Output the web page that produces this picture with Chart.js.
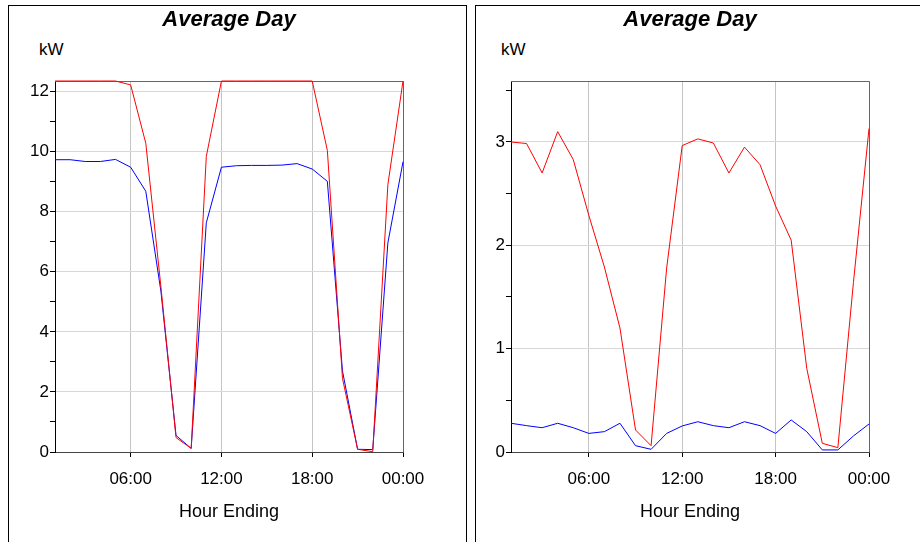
<!DOCTYPE html>
<html>
<head>
<meta charset="utf-8">
<title>Average Day</title>
<script src="https://cdn.jsdelivr.net/npm/chart.js@4.4.0/dist/chart.umd.min.js"></script>
<style>
  html, body { margin: 0; padding: 0; background: #fff; }
  body { position: relative; width: 920px; height: 542px; overflow: hidden; font-family: 'Liberation Sans', Arial, sans-serif; }
  .panel { position: absolute; top: 5px; height: 600px; border: 1px solid #000; box-sizing: border-box; }
  #panelLeft { left: 8px; width: 459px; }
  #panelRight { left: 475px; width: 460px; }
  .unit { position: absolute; top: 40px; font-size: 17px; line-height: 20px; color: #000; }
  canvas { position: absolute; top: 0; }
  #chartLeft { left: 0; }
  #chartRight { left: 466px; }
</style>
</head>
<body>
<div class="panel" id="panelLeft"></div>
<div class="panel" id="panelRight"></div>
<div class="unit" style="left: 39px;">kW</div>
<div class="unit" style="left: 501px;">kW</div>
<canvas id="chartLeft" width="466" height="542"></canvas>
<canvas id="chartRight" width="454" height="542"></canvas>
<script>
// hour ending 1..24 (24 = midnight)
const hours = [1, 2, 3, 4, 5, 6, 7, 8, 9, 10, 11, 12, 13, 14, 15, 16, 17, 18, 19, 20, 21, 22, 23, 24];
const xTicks = [6, 12, 18, 24];
const xTickLabels = ['06:00', '12:00', '18:00', '00:00'];

// left meter, kW
const leftMax = [12.35, 12.35, 12.35, 12.35, 12.35, 12.22, 10.28, 5.5, 0.48, 0.12, 9.84, 12.35,
                 12.35, 12.35, 12.35, 12.35, 12.35, 12.35, 10.04, 2.45, 0.09, 0.01, 8.9, 12.35];
const leftAvg = [9.73, 9.73, 9.67, 9.67, 9.74, 9.48, 8.68, 5.35, 0.55, 0.12, 7.63, 9.48,
                 9.53, 9.54, 9.54, 9.55, 9.6, 9.42, 9.01, 2.7, 0.09, 0.08, 6.96, 9.66];
const leftRange = [0, 12.35];
const leftYTicks = [0, 1, 2, 3, 4, 5, 6, 7, 8, 9, 10, 11, 12];

// right meter, kW
const rightMax = [3.0, 2.985, 2.7, 3.1, 2.83, 2.29, 1.79, 1.2, 0.213, 0.061, 1.78, 2.965,
                  3.03, 2.99, 2.7, 2.95, 2.78, 2.38, 2.05, 0.81, 0.084, 0.042, 1.64, 3.13];
const rightAvg = [0.278, 0.255, 0.235, 0.278, 0.235, 0.18, 0.197, 0.278, 0.061, 0.026, 0.18, 0.252,
                  0.293, 0.255, 0.235, 0.293, 0.255, 0.18, 0.31, 0.197, 0.02, 0.02, 0.155, 0.271];
const rightRange = [0, 3.59];
const rightYTicks = [0, 0.5, 1, 1.5, 2, 2.5, 3, 3.5];

Chart.defaults.font.family = "'Liberation Sans', Arial, sans-serif";
Chart.defaults.color = '#000';

// grey box round the plot area (top and right edges)
const plotFrame = {
  id: 'plotFrame',
  beforeDatasetsDraw(chart) {
    const { ctx, chartArea: a } = chart;
    ctx.save();
    ctx.strokeStyle = '#666';
    ctx.lineWidth = 1;
    ctx.beginPath();
    ctx.moveTo(a.left, Math.round(a.top) + 0.5);
    ctx.lineTo(Math.round(a.right) + 0.5, Math.round(a.top) + 0.5);
    ctx.lineTo(Math.round(a.right) + 0.5, a.bottom);
    ctx.stroke();
    ctx.restore();
  }
};

function onStep(v, step) {
  const r = v / step;
  return Math.abs(r - Math.round(r)) < 1e-9;
}

function dayChart(id, maxVals, avgVals, range, yTicks, labelStep, axisWidth, padRight) {
  const ctx = document.getElementById(id).getContext('2d');
  return new Chart(ctx, {
    type: 'line',
    data: {
      datasets: [
        {
          label: 'Max',
          data: hours.map((h, i) => ({ x: h, y: maxVals[i] })),
          borderColor: '#ff0000',
          borderWidth: 1,
          pointRadius: 0,
          tension: 0,
          clip: 2,
        },
        {
          label: 'Average',
          data: hours.map((h, i) => ({ x: h, y: avgVals[i] })),
          borderColor: '#0000ff',
          borderWidth: 1,
          pointRadius: 0,
          tension: 0,
          clip: 2,
        },
      ],
    },
    options: {
      responsive: false,
      animation: false,
      layout: { padding: { top: 0, right: padRight, bottom: 0, left: 0 } },
      plugins: {
        legend: { display: false },
        tooltip: { enabled: false },
        title: {
          display: true,
          text: 'Average Day',
          fullSize: false,
          font: { size: 22, weight: 'bold', style: 'italic' },
          color: '#000',
          padding: { top: 7, bottom: 47.6 },
        },
      },
      scales: {
        x: {
          type: 'linear',
          min: hours[0],
          max: hours[hours.length - 1],
          afterBuildTicks: s => { s.ticks = xTicks.map(v => ({ value: v })); },
          afterFit: s => { s.height = 90; },
          ticks: {
            autoSkip: false,
            maxRotation: 0,
            padding: 12,
            font: { size: 17 },
            callback: v => xTickLabels[xTicks.indexOf(v)],
          },
          grid: { color: '#c4c4c4', tickColor: '#000', tickLength: 5 },
          border: { color: '#444', width: 1 },
          title: {
            display: true,
            text: 'Hour Ending',
            font: { size: 18 },
            padding: { top: 0, bottom: 19 },
          },
        },
        y: {
          min: range[0],
          max: range[1],
          bounds: 'data',
          afterBuildTicks: s => { s.ticks = yTicks.map(v => ({ value: v })); },
          afterFit: s => { s.width = axisWidth; },
          ticks: {
            padding: 1,
            font: { size: 17 },
            callback: v => (onStep(v, labelStep) ? String(v) : ''),
          },
          grid: {
            color: c => (c.tick && onStep(c.tick.value, labelStep) ? '#d8d8d8' : 'rgba(0,0,0,0)'),
            tickColor: '#000',
            tickLength: 5,
          },
          border: { color: '#000', width: 1 },
        },
      },
    },
    plugins: [plotFrame],
  });
}

dayChart('chartLeft', leftMax, leftAvg, leftRange, leftYTicks, 2, 55, 63);
dayChart('chartRight', rightMax, rightAvg, rightRange, rightYTicks, 1, 45, 51);
</script>
</body>
</html>
